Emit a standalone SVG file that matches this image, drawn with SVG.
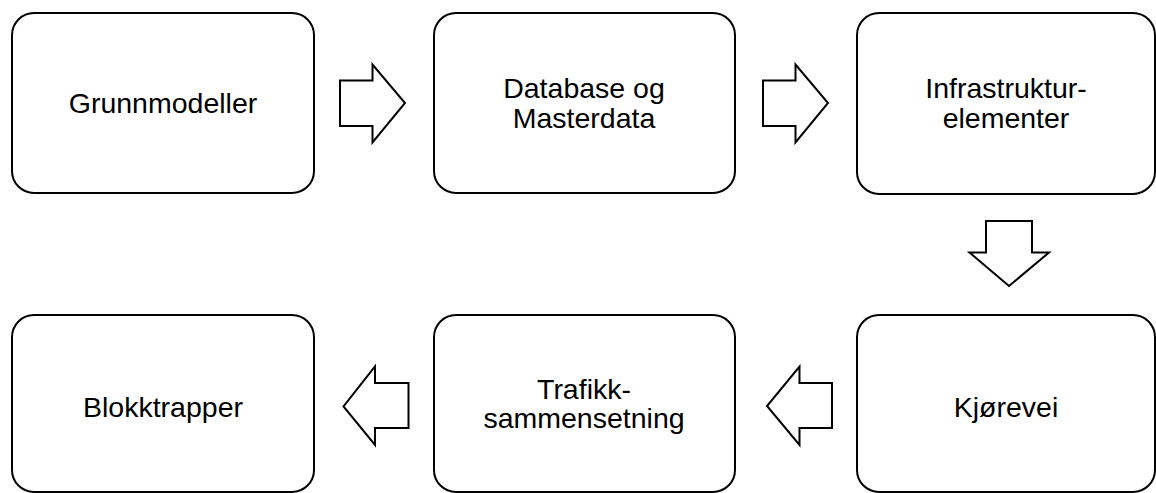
<svg xmlns="http://www.w3.org/2000/svg" width="1156" height="493" viewBox="0 0 1156 493">
<style>
.box{fill:#fff;stroke:#000;stroke-width:2}
.arr{fill:#fff;stroke:#000;stroke-width:2;stroke-linejoin:miter}
text{font-family:"Liberation Sans",Arial,sans-serif;font-size:28.5px;fill:#000;text-anchor:middle}
</style>
<rect width="1156" height="493" fill="#fff"/>
<g id="n1"><rect class="box" x="12" y="13" width="302" height="180" rx="22"/><text x="163" y="113">Grunnmodeller</text></g>
<g id="n2"><rect class="box" x="434" y="13" width="301" height="180" rx="22"/><text x="584" y="98">Database og</text><text x="584" y="128">Masterdata</text></g>
<g id="n3"><rect class="box" x="857" y="13" width="298" height="181" rx="22"/><text x="1006" y="98">Infrastruktur-</text><text x="1006" y="128">elementer</text></g>
<g id="n4"><rect class="box" x="857" y="315" width="298" height="177" rx="22"/><text x="1006" y="417">Kjørevei</text></g>
<g id="n5"><rect class="box" x="434" y="315" width="301" height="177" rx="22"/><text x="584" y="399">Trafikk-</text><text x="584" y="428">sammensetning</text></g>
<g id="n6"><rect class="box" x="12" y="315" width="302" height="177" rx="22"/><text x="163" y="417">Blokktrapper</text></g>
<g id="connectors">
<polygon class="arr" points="340,80.5 372.5,80.5 372.5,64.5 405,103 372.5,142.5 372.5,126 340,126"/>
<polygon class="arr" points="763,80.5 795.5,80.5 795.5,64.5 828,103 795.5,142.5 795.5,126 763,126"/>
<polygon class="arr" points="986,221 1032,221 1032,252.5 1049,252.5 1009,286 969.5,252.5 986,252.5"/>
<polygon class="arr" points="832,383 799.5,383 799.5,366.5 767,406 799.5,445 799.5,428 832,428"/>
<polygon class="arr" points="408.5,383 375,383 375,366.5 343.5,406.5 375,445 375,428 408.5,428"/>
</g>
</svg>
